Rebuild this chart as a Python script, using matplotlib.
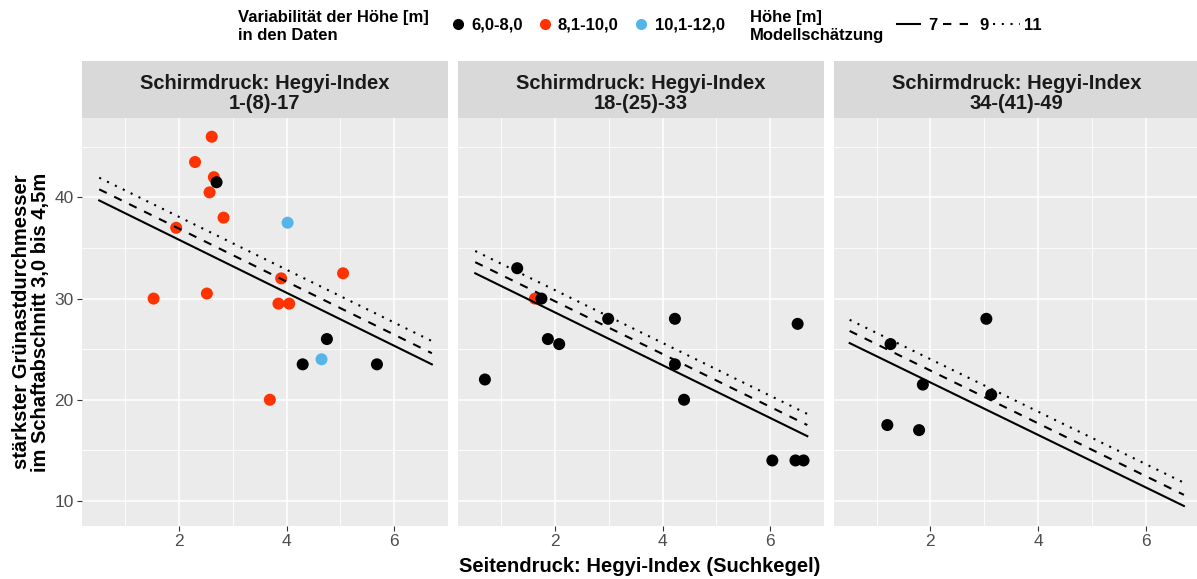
import matplotlib
matplotlib.use("Agg")
import matplotlib.pyplot as plt
from matplotlib.lines import Line2D

plt.rcParams['font.family'] = ['Liberation Sans', 'DejaVu Sans']

# legend groups
groups = ['6,0-8,0', '8,1-10,0', '10,1-12,0']
group_colors = ['#000000', '#FF3300', '#56B4E9']
heights = ['7', '9', '11']
height_styles = ['-', (0, (4, 4)), (0, (1, 3.2))]

strip_titles = ['Schirmdruck: Hegyi-Index\n1-(8)-17',
                'Schirmdruck: Hegyi-Index\n18-(25)-33',
                'Schirmdruck: Hegyi-Index\n34-(41)-49']

# panel 1 observations (group index: 0 black, 1 red, 2 blue)
p1_x = [2.61, 2.30, 2.65, 2.70, 2.57, 2.83, 4.02, 1.95, 5.05, 3.90,
        1.53, 2.52, 3.85, 4.05, 4.75, 4.65, 4.30, 5.68, 3.69]
p1_y = [46.0, 43.5, 42.0, 41.5, 40.5, 38.0, 37.5, 37.0, 32.5, 32.0,
        30.0, 30.5, 29.5, 29.5, 26.0, 24.0, 23.5, 23.5, 20.0]
p1_g = [1, 1, 1, 0, 1, 1, 2, 1, 1, 1,
        1, 1, 1, 1, 0, 2, 0, 0, 1]

p2_x = [0.70, 1.30, 1.63, 1.75, 1.87, 2.08, 2.99, 4.23, 4.23, 4.40,
        6.51, 6.04, 6.47, 6.62]
p2_y = [22.0, 33.0, 30.0, 30.0, 26.0, 25.5, 28.0, 28.0, 23.5, 20.0,
        27.5, 14.0, 14.0, 14.0]
p2_g = [0, 0, 1, 0, 0, 0, 0, 0, 0, 0,
        0, 0, 0, 0]

p3_x = [1.26, 3.04, 1.86, 3.13, 1.20, 1.79]
p3_y = [25.5, 28.0, 21.5, 20.5, 17.5, 17.0]
p3_g = [0, 0, 0, 0, 0, 0]

# model estimates (start / end) for heights 7, 9, 11
p1_line_x = [0.52, 6.70]
p1_lines = [[39.7, 23.5], [40.8, 24.6], [41.95, 25.8]]
p2_line_x = [0.52, 6.69]
p2_lines = [[32.5, 16.4], [33.6, 17.5], [34.7, 18.6]]
p3_line_x = [0.50, 6.71]
p3_lines = [[25.6, 9.5], [26.8, 10.6], [27.9, 11.8]]

panels = [(p1_x, p1_y, p1_g, p1_line_x, p1_lines),
          (p2_x, p2_y, p2_g, p2_line_x, p2_lines),
          (p3_x, p3_y, p3_g, p3_line_x, p3_lines)]

W, H = 1197, 579
fig = plt.figure(figsize=(W / 100, H / 100), dpi=100)

lefts = [82, 458, 833.5]
pw = 366
top, bottom = 118, 525.7
strip_top = 61

for i, (xs, ys, gs, lx, lys) in enumerate(panels):
    ax = fig.add_axes([lefts[i] / W, (H - bottom) / H, pw / W, (bottom - top) / H])
    ax.set_facecolor('#EBEBEB')
    for s in ax.spines.values():
        s.set_visible(False)
    ax.set_xlim(0.2, 7.0)
    ax.set_ylim(7.55, 47.85)
    ax.set_xticks([2, 4, 6])
    ax.set_xticks([1, 3, 5, 7], minor=True)
    ax.set_yticks([10, 20, 30, 40])
    ax.set_yticks([15, 25, 35, 45], minor=True)
    ax.grid(which='major', color='white', lw=1.1)
    ax.grid(which='minor', color='white', lw=0.6)
    ax.set_axisbelow(True)
    ax.tick_params(which='major', length=3.5, width=0.8, color='#333333',
                   labelsize=12.5, labelcolor='#4D4D4D', pad=2.5)
    ax.tick_params(which='minor', length=0)
    if i > 0:
        ax.tick_params(axis='y', which='major', length=0, labelleft=False)

    for g in [1, 2, 0]:
        gx = [x for x, gg in zip(xs, gs) if gg == g]
        gy = [y for y, gg in zip(ys, gs) if gg == g]
        ax.scatter(gx, gy, s=75, color=group_colors[g], edgecolors='none', zorder=3)
    for ly, ls in zip(lys, height_styles):
        ax.plot(lx, ly, color='black', lw=1.5, linestyle=ls, dash_capstyle='butt', zorder=4)

    sax = fig.add_axes([lefts[i] / W, (H - top) / H, pw / W, (top - strip_top) / H])
    sax.set_facecolor('#D9D9D9')
    sax.set_xticks([])
    sax.set_yticks([])
    for s in sax.spines.values():
        s.set_visible(False)
    sax.text(0.5, 0.43, strip_titles[i], ha='center', va='center', fontsize=14.5,
             fontweight='bold', color='#1A1A1A', linespacing=1.1, transform=sax.transAxes)

fig.text(640 / W, 1 - 567 / H, 'Seitendruck: Hegyi-Index (Suchkegel)', ha='center',
         va='center', fontsize=14.5, fontweight='bold')
fig.text(31 / W, 1 - 322 / H, 'stärkster Grünastdurchmesser\nim Schaftabschnitt 3,0 bis 4,5m',
         ha='center', va='center', rotation=90, fontsize=14.5, fontweight='bold',
         linespacing=1.05)

# legend drawn in pixel coordinates
lax = fig.add_axes([0, 0, 1, 1], zorder=10)
lax.set_xlim(0, W)
lax.set_ylim(H, 0)
lax.axis('off')
ly = 24
lax.text(238, 26.5, 'Variabilität der Höhe [m]\nin den Daten', ha='left', va='center',
         fontsize=12, fontweight='bold', linespacing=1.25)
for dx, tx, lab, col in zip([458, 545, 641], [471, 557, 655], groups, group_colors):
    lax.add_line(Line2D([dx], [ly], marker='o', ms=8, color=col, mec='none'))
    lax.text(tx, ly + 1, lab, ha='left', va='center', fontsize=12, fontweight='bold')
lax.text(750, 26.5, 'Höhe [m]\nModellschätzung', ha='left', va='center',
         fontsize=12, fontweight='bold', linespacing=1.25)
for (x0, x1), tx, lab, ls in zip([(897, 920), (943, 972), (993, 1020)],
                                 [928, 979, 1024], heights, height_styles):
    lax.add_line(Line2D([x0, x1], [ly, ly], color='black', lw=1.5, linestyle=ls,
                        dash_capstyle='butt'))
    lax.text(tx, ly + 1, lab, ha='left', va='center', fontsize=12, fontweight='bold')

fig.savefig('out.png', dpi=100)
